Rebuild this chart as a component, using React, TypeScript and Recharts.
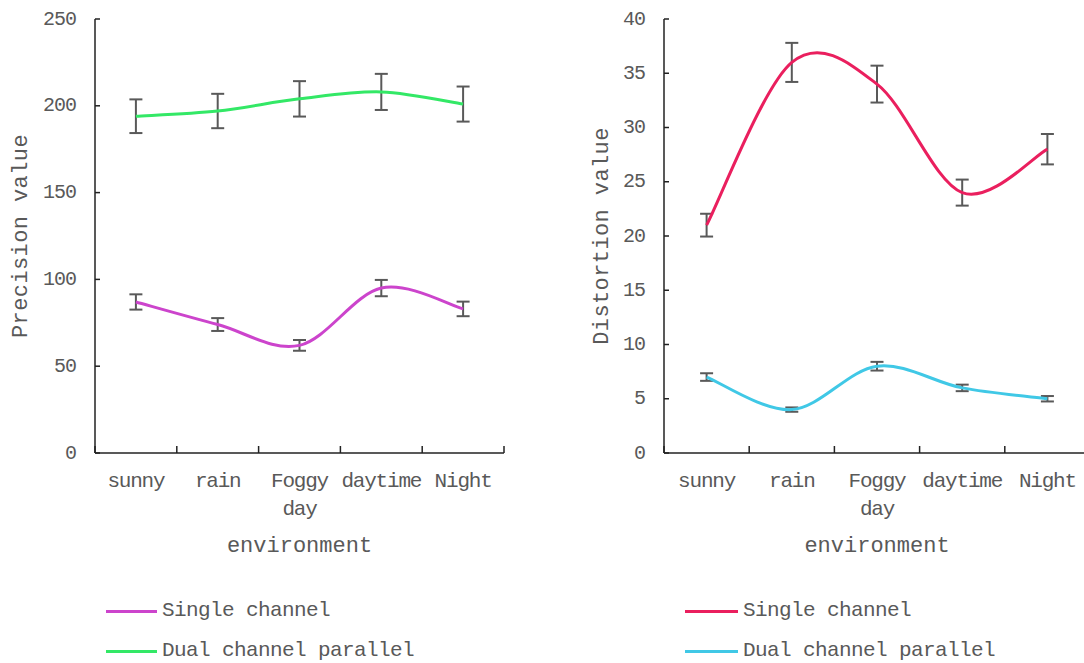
import React from 'react';
import { LineChart, Line, XAxis, YAxis, ErrorBar, Legend } from 'recharts';

// ---- data ----
const categories = ['sunny', 'rain', 'Foggy day', 'daytime', 'Night'];

const precisionSingle = [87, 74, 62, 95, 83];
const precisionSingleErr = [4.4, 3.7, 3.1, 4.7, 4.2];
const precisionDual = [194, 197, 204, 208, 201];
const precisionDualErr = [9.7, 9.9, 10.2, 10.4, 10.1];

const distortionSingle = [21, 36, 34, 24, 28];
const distortionSingleErr = [1.05, 1.8, 1.7, 1.2, 1.4];
const distortionDual = [7, 4, 8, 6, 5];
const distortionDualErr = [0.35, 0.2, 0.4, 0.3, 0.25];

const precisionTicks = [0, 50, 100, 150, 200, 250];
const distortionTicks = [0, 5, 10, 15, 20, 25, 30, 35, 40];
const xTicks = [0, 0.5, 1, 1.5, 2, 2.5, 3, 3.5, 4, 4.5, 5];

const seriesNames = ['Single channel', 'Dual channel parallel'];
const leftColors = ['#CC44CC', '#33E866'];
const rightColors = ['#EA1F5E', '#40C8E6'];

const leftData = categories.map((c, i) => ({
  x: i + 0.5,
  name: c,
  single: precisionSingle[i],
  singleErr: precisionSingleErr[i],
  dual: precisionDual[i],
  dualErr: precisionDualErr[i],
}));

const rightData = categories.map((c, i) => ({
  x: i + 0.5,
  name: c,
  single: distortionSingle[i],
  singleErr: distortionSingleErr[i],
  dual: distortionDual[i],
  dualErr: distortionDualErr[i],
}));

// ---- styles ----
const FONT = '"Liberation Mono", "DejaVu Sans Mono", monospace';
const TEXT = '#595959';
const AXIS = '#222222';

// Catmull-Rom style smoothing (like spreadsheet smoothed lines)
function smoothCurve(context: any) {
  let pts: number[][] = [];
  return {
    areaStart() {},
    areaEnd() {},
    lineStart() {
      pts = [];
    },
    lineEnd() {
      if (!pts.length) return;
      context.moveTo(pts[0][0], pts[0][1]);
      for (let i = 0; i < pts.length - 1; i++) {
        const p0 = pts[i - 1] || pts[i];
        const p1 = pts[i];
        const p2 = pts[i + 1];
        const p3 = pts[i + 2] || p2;
        context.bezierCurveTo(
          p1[0] + (p2[0] - p0[0]) / 6,
          p1[1] + (p2[1] - p0[1]) / 6,
          p2[0] - (p3[0] - p1[0]) / 6,
          p2[1] - (p3[1] - p1[1]) / 6,
          p2[0],
          p2[1]
        );
      }
    },
    point(x: number, y: number) {
      pts.push([+x, +y]);
    },
  };
}

const XTick = (props: any) => {
  const { x, y, payload } = props;
  const v = payload.value;
  if (Number.isInteger(v)) {
    return <line x1={x} y1={y} x2={x} y2={y - 7} stroke={AXIS} strokeWidth={1.5} />;
  }
  const label = categories[Math.floor(v)] || '';
  const parts = label.split(' ');
  return (
    <text
      x={x}
      y={y + 34}
      textAnchor="middle"
      fill={TEXT}
      style={{ fontFamily: FONT, fontSize: 21, letterSpacing: -1.2 }}
    >
      {parts.map((p, i) => (
        <tspan key={i} x={x} dy={i === 0 ? 0 : 28}>
          {p}
        </tspan>
      ))}
    </text>
  );
};

const YTick = (props: any) => {
  const { x, y, payload } = props;
  return (
    <g>
      <line x1={x} y1={y} x2={x + 5} y2={y} stroke={AXIS} strokeWidth={1.5} />
      <text
        x={x - 19}
        y={y}
        textAnchor="end"
        dominantBaseline="central"
        fill={TEXT}
        style={{ fontFamily: FONT, fontSize: 20, letterSpacing: -1 }}
      >
        {payload.value}
      </text>
    </g>
  );
};

const makeLegend = (lineWidth: number) => (props: any) => {
  const items = [...(props.payload || [])].sort(
    (a: any, b: any) => seriesNames.indexOf(a.value) - seriesNames.indexOf(b.value)
  );
  return (
    <div>
      {items.map((item: any, i: number) => (
        <div key={i} style={{ display: 'flex', alignItems: 'center', height: 40 }}>
          <div style={{ width: lineWidth, height: 3, background: item.color, marginRight: 5 }} />
          <span style={{ fontFamily: FONT, fontSize: 21, letterSpacing: -0.6, color: TEXT, lineHeight: '40px', whiteSpace: 'nowrap' }}>
            {item.value}
          </span>
        </div>
      ))}
    </div>
  );
};

type PanelProps = {
  data: any[];
  colors: string[];
  yDomain: [number, number];
  yTicks: number[];
  yTitle: string;
  yTitleX: number;
  yAxisWidth: number;
  marginRight: number;
  legendLeft: number;
  legendLineWidth: number;
};

const Panel = (p: PanelProps) => {
  const yLabel = (lp: any) => {
    const vb = lp.viewBox || {};
    const cy = vb.y + vb.height / 2;
    return (
      <text
        x={p.yTitleX}
        y={cy}
        transform={`rotate(-90, ${p.yTitleX}, ${cy})`}
        textAnchor="middle"
        dominantBaseline="central"
        fill={TEXT}
        style={{ fontFamily: FONT, fontSize: 22, letterSpacing: 0.4 }}
      >
        {p.yTitle}
      </text>
    );
  };
  const xLabel = (lp: any) => {
    const vb = lp.viewBox || {};
    return (
      <text
        x={vb.x + vb.width / 2}
        y={vb.y + 99}
        textAnchor="middle"
        fill={TEXT}
        style={{ fontFamily: FONT, fontSize: 22, letterSpacing: 0 }}
      >
        environment
      </text>
    );
  };
  return (
    <LineChart
      width={540}
      height={663}
      data={p.data}
      margin={{ top: 19, right: p.marginRight, bottom: 110, left: 0 }}
    >
      <XAxis
        dataKey="x"
        type="number"
        domain={[0, 5]}
        ticks={xTicks}
        interval={0}
        height={100}
        tickSize={0}
        tickMargin={0}
        tickLine={false}
        tick={<XTick />}
        axisLine={{ stroke: AXIS, strokeWidth: 1.5 }}
        label={xLabel}
      />
      <YAxis
        type="number"
        domain={p.yDomain}
        ticks={p.yTicks}
        interval={0}
        width={p.yAxisWidth}
        tickSize={0}
        tickMargin={0}
        tickLine={false}
        tick={<YTick />}
        axisLine={{ stroke: AXIS, strokeWidth: 1.5 }}
        label={yLabel}
      />
      <Legend
        layout="horizontal"
        verticalAlign="middle"
        align="center"
        wrapperStyle={{ position: 'absolute', left: p.legendLeft, top: 591, width: 420 }}
        content={makeLegend(p.legendLineWidth)}
      />
      <Line
        dataKey="single"
        name={seriesNames[0]}
        stroke={p.colors[0]}
        strokeWidth={3}
        dot={false}
        type={smoothCurve as any}
        isAnimationActive={false}
      >
        <ErrorBar dataKey="singleErr" width={6.5} stroke="#595959" strokeWidth={2} direction="y" />
      </Line>
      <Line
        dataKey="dual"
        name={seriesNames[1]}
        stroke={p.colors[1]}
        strokeWidth={3}
        dot={false}
        type={smoothCurve as any}
        isAnimationActive={false}
      >
        <ErrorBar dataKey="dualErr" width={6.5} stroke="#595959" strokeWidth={2} direction="y" />
      </Line>
    </LineChart>
  );
};

export default function App() {
  return (
    <div
      style={{
        position: 'absolute',
        left: 0,
        top: 0,
        width: 1084,
        height: 663,
        overflow: 'hidden',
        background: '#ffffff',
      }}
    >
      <div style={{ position: 'absolute', left: 0, top: 0 }}>
        <Panel
          data={leftData}
          colors={leftColors}
          yDomain={[0, 250]}
          yTicks={precisionTicks}
          yTitle="Precision value"
          yTitleX={21}
          yAxisWidth={95}
          marginRight={36}
          legendLeft={106}
          legendLineWidth={51}
        />
      </div>
      <div style={{ position: 'absolute', left: 560, top: 0 }}>
        <Panel
          data={rightData}
          colors={rightColors}
          yDomain={[0, 40]}
          yTicks={distortionTicks}
          yTitle="Distortion value"
          yTitleX={42}
          yAxisWidth={104}
          marginRight={10}
          legendLeft={125}
          legendLineWidth={53}
        />
      </div>
    </div>
  );
}
